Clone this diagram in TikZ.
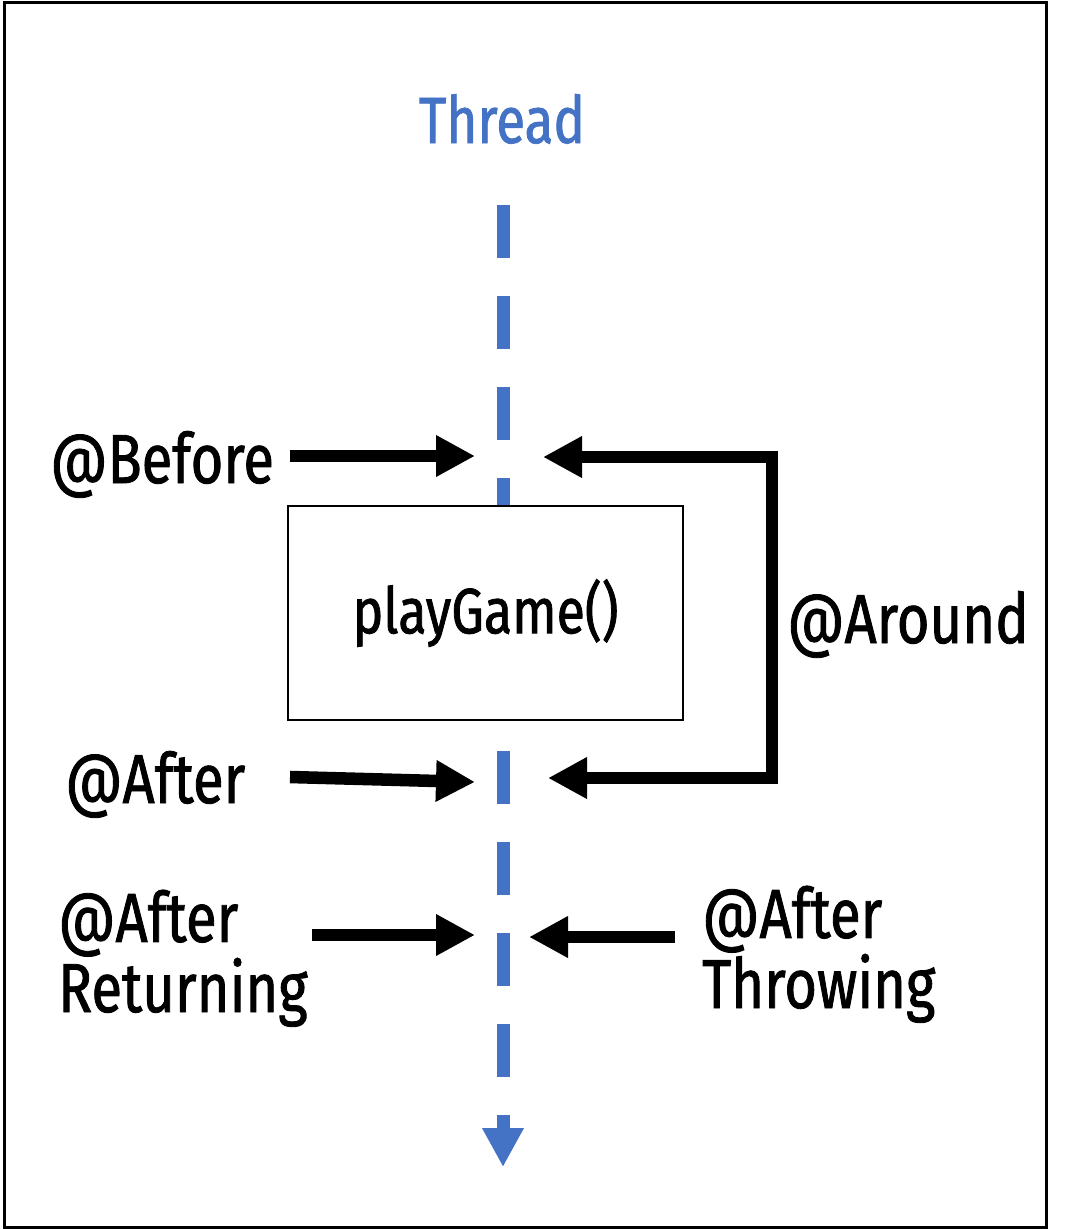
\documentclass[tikz,border=0pt]{standalone}
\usepackage{fontspec}
\setmainfont{Fira Sans}[FakeStretch=0.81,FakeBold=1.2]
\usetikzlibrary{arrows.meta,positioning}
\definecolor{threadblue}{HTML}{4472C4}

\begin{document}
\begin{tikzpicture}[x=0.75pt,y=-0.75pt,
  advice/.style={anchor=base west,inner sep=0pt,align=left,font=\fontsize{52}{50}\selectfont},
  method/.style={draw,fill=white,line width=1.5pt,minimum width=296.25pt,minimum height=160.5pt,font=\fontsize{48}{50}\selectfont},
  call/.style={-{Triangle[length=29.25pt,width=29.25pt]},line width=9.4pt},
  thread/.style={threadblue,line width=9.75pt,dash pattern=on 39.75pt off 28.5pt,-{Triangle[length=29.25pt,width=29.25pt]}}
]
\useasboundingbox (0,0) rectangle (1069,1229);
\draw[line width=2.25pt] (4,2) rectangle (1046,1227);
% thread running through the call
\node[threadblue,inner sep=0pt,anchor=base,font=\fontsize{49}{50}\selectfont] (thread) at (502,143) {Thread};
\coordinate (t0) at (503,205);
\coordinate (t1) at (503,1167);
\draw[thread] (t0) -- (t1);
\node[method] (game) at (485.5,613) {playGame()};
% advice labels
\node[advice] (before) at (50,483) {@Before};
\node[advice] (after) at (65,803) {@After};
\node[advice] (returning) at (58,1012) {@After\\Returning};
\node[advice] (throwing) at (702,1008) {@After\\Throwing};
\node[advice] (around) at (787,643) {@Around};
% join points
\coordinate (b0) at (290,456);
\coordinate (b1) at (475,456);
\coordinate (a0) at (290,777);
\coordinate (a1) at (475,782);
\coordinate (r0) at (312,935);
\coordinate (r1) at (475,935);
\coordinate (w0) at (675,937);
\coordinate (w1) at (529,937);
\coordinate (o1) at (543,457);
\coordinate (o2) at (772,457);
\coordinate (o3) at (772,778);
\coordinate (o4) at (548,778);
\draw[call] (b0) -- (b1);
\draw[call] (a0) -- (a1);
\draw[call] (r0) -- (r1);
\draw[call] (w0) -- (w1);
\draw[call,{Triangle[length=29.25pt,width=29.25pt]}-{Triangle[length=29.25pt,width=29.25pt]}] (o4) -- (o3) -- (o2) -- (o1);
\end{tikzpicture}
\end{document}
